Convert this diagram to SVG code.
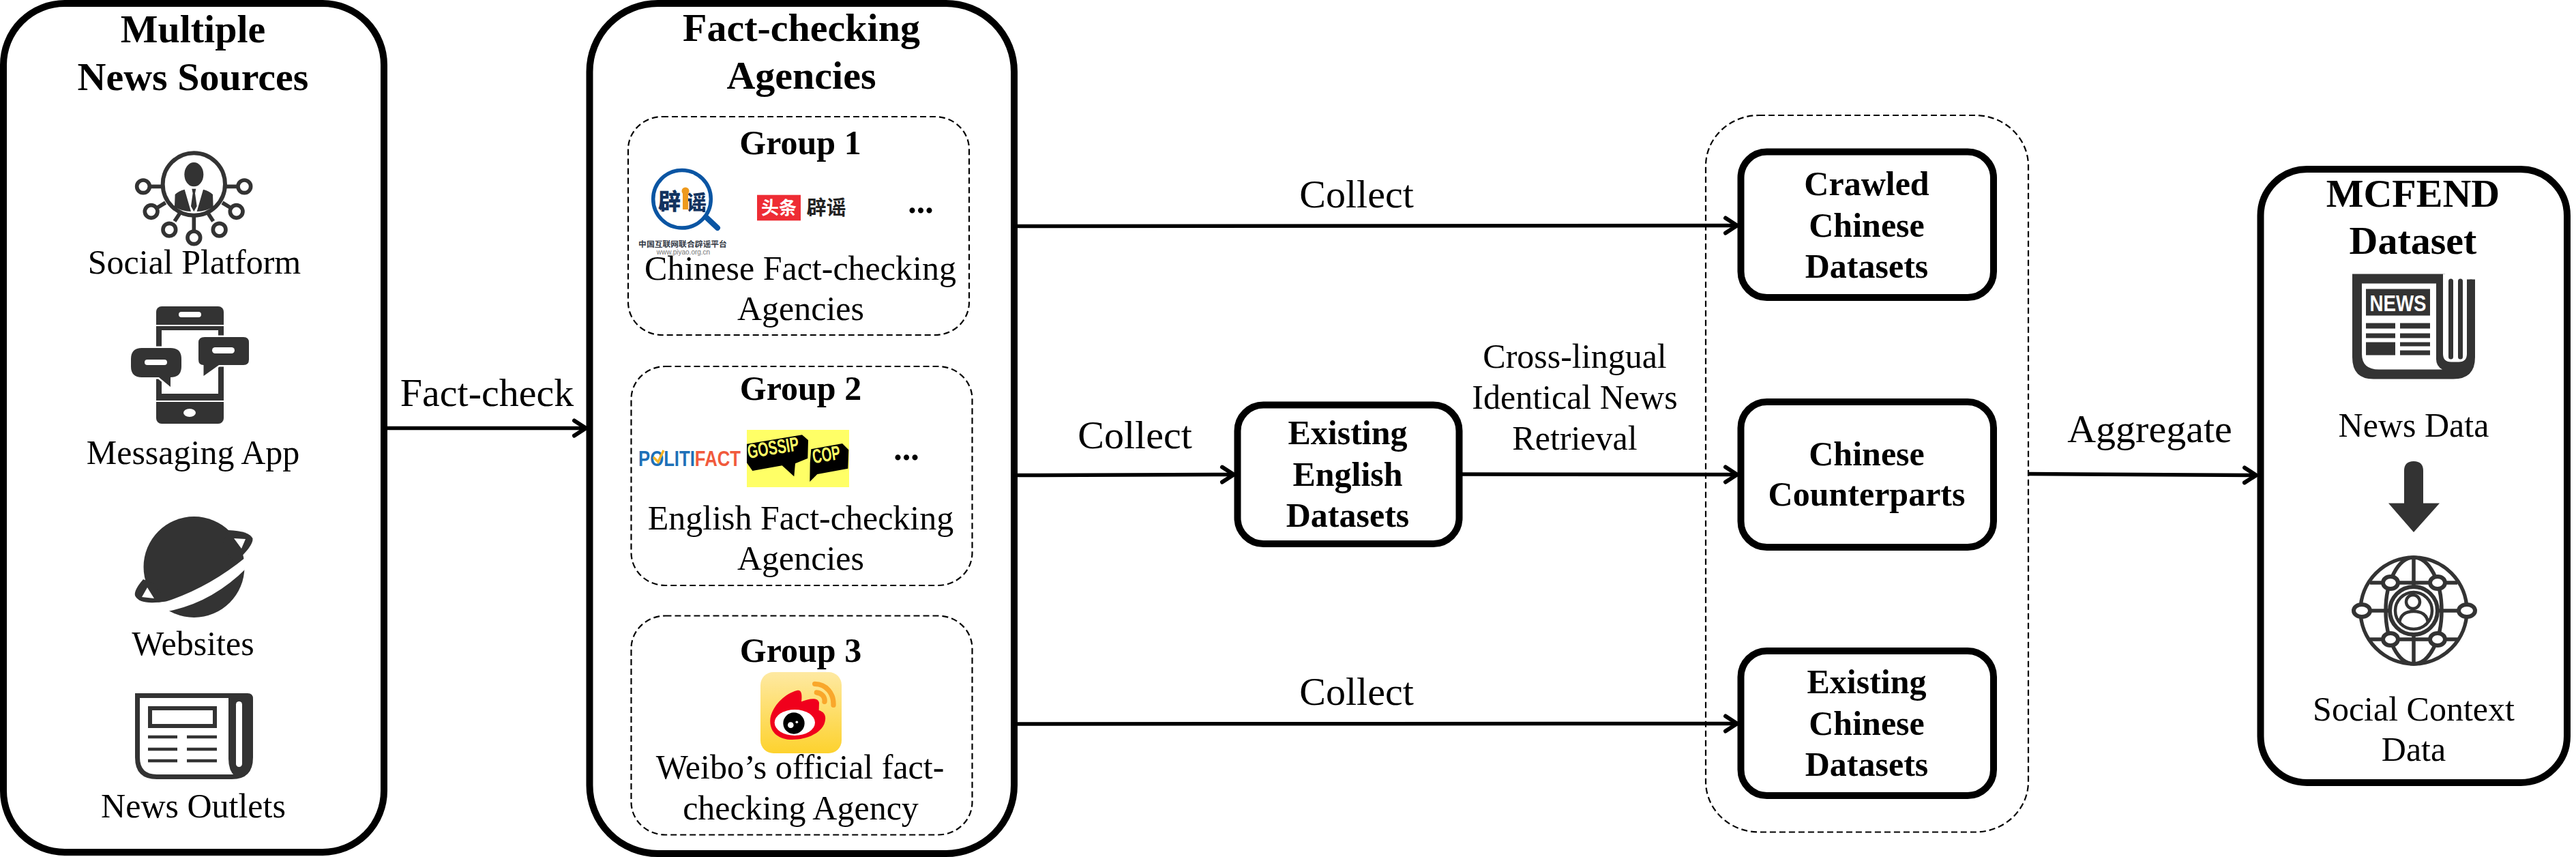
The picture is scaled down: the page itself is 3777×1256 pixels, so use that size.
<svg xmlns="http://www.w3.org/2000/svg" width="3777" height="1256" viewBox="0 0 3777 1256">
<defs>
<style>
text{font-family:"Liberation Serif","Times New Roman","Noto Sans CJK SC",serif;fill:#000;text-anchor:middle}
.h{font-size:58px;font-weight:700}
.b{font-size:50px;font-weight:700}
.r{font-size:50px}
.e{font-size:58px}
.panel{fill:#fff;stroke:#000;stroke-width:10}
.box{fill:#fff;stroke:#000;stroke-width:10}
.dash{fill:none;stroke:#000;stroke-width:2.200;stroke-dasharray:9 5}
.conn{fill:none;stroke:#000;stroke-width:5.500}
.dk{fill:#333}
.ln{fill:none;stroke:#333}
.wh{fill:#fff}
.cjk{font-family:"Noto Sans CJK SC","Liberation Sans",sans-serif}
.sans{font-family:"Liberation Sans","Noto Sans",Arial,sans-serif}
</style>
<marker id="arrow" markerUnits="userSpaceOnUse" markerWidth="34" markerHeight="34" refX="29" refY="17" orient="auto" overflow="visible">
<path d="M11,6 L28,17 L11,28" fill="none" stroke="#000" stroke-width="6" stroke-linecap="round"/>
</marker>
<linearGradient id="wb" x1="0" y1="0" x2="0" y2="1">
<stop offset="0" stop-color="#fee9a2"/><stop offset="1" stop-color="#fdd22e"/>
</linearGradient>
</defs>
<rect width="3777" height="1256" fill="#fff"/>

<g id="multiple-news-sources">
<rect class="panel" x="5" y="5" width="558" height="1244" rx="90" ry="90"/>
<text class="h" x="283" y="62">Multiple</text>
<text class="h" x="283" y="132">News Sources</text>

<g id="icon-social" transform="translate(180 215) scale(.3333)">
<circle cx="313" cy="165" r="137" fill="none" stroke="#333" stroke-width="18"/>
<ellipse class="dk" cx="313" cy="122" rx="42" ry="53"/>
<path class="dk" d="M228,265 L230,210 Q245,195 272,188 L300,285 Q260,285 228,265 Z M398,265 L396,210 Q381,195 354,188 L326,285 Q366,285 398,265 Z M304,185 H322 L318,205 L326,262 L313,285 L300,262 L308,205 Z"/>
<g fill="#fff" stroke="#333" stroke-width="17">
<path d="M118,175 H170 M146,272 L188,246 M228,328 L258,282 M313,372 V304 M398,328 L368,282 M480,272 L438,246 M508,175 H456"/>
<circle cx="90" cy="175" r="28"/><circle cx="125" cy="285" r="28"/><circle cx="205" cy="365" r="28"/><circle cx="313" cy="400" r="28"/><circle cx="425" cy="365" r="28"/><circle cx="500" cy="285" r="28"/><circle cx="535" cy="175" r="28"/>
</g>
</g>
<text class="r" x="285" y="401">Social Platform</text>

<g id="icon-messaging">
<rect class="dk" x="229" y="449" width="99" height="172" rx="8"/>
<rect class="wh" x="237" y="484" width="83" height="93"/>
<rect class="wh" x="229" y="476" width="99" height="2"/>
<rect class="wh" x="229" y="587" width="99" height="2"/>
<rect class="wh" x="262" y="457" width="33" height="8" rx="4"/>
<ellipse class="wh" cx="278" cy="605" rx="9" ry="6"/>
<path class="dk" stroke="#fff" stroke-width="5" paint-order="stroke" d="M208,510 H250 Q266,510 266,526 V537 Q266,553 250,553 V567 L233,553 H208 Q192,553 192,537 V526 Q192,510 208,510 Z"/>
<path class="dk" stroke="#fff" stroke-width="5" paint-order="stroke" d="M300,494 H357 Q365,494 365,502 V527 Q365,535 357,535 H321 L298.500,551 V535 Q291,535 291,527 V502 Q291,494 300,494 Z"/>
<rect class="wh" x="212" y="527" width="33" height="8" rx="4"/>
<rect class="wh" x="311" y="509" width="33" height="9" rx="4.500"/>
</g>
<text class="r" x="283" y="680">Messaging App</text>

<g id="icon-website">
<circle class="dk" cx="284.500" cy="831" r="74"/>
<path class="wh" d="M200,902 L245,896 Q310,884 362,832 L375,800 L360,817 Q306,861 245,881 Q220,885 205,880 Z"/>
<path class="dk" d="M335,777 Q365,778 370.500,789 Q372,800 344,825 L325,800 Z"/>
<path class="wh" d="M343,789 L360,790 L354,804 Z"/>
<path class="dk" d="M210,849 Q196,865 198,873 Q205,888 245,881 L225,855 Z"/>
<path class="wh" d="M216,861 L226,877 L208,875 Z"/>
</g>
<text class="r" x="283" y="960">Websites</text>

<g id="icon-outlets">
<path class="ln" stroke-width="7" fill="none" d="M201.500,1019.500 H363 Q367.500,1019.500 367.500,1024 V1110 Q367.500,1138.500 340,1138.500 H230 Q201.500,1138.500 201.500,1110 Z"/>
<path class="dk" d="M335,1019 H368 V1115 Q368,1136 345,1138 Q335,1130 335,1112 Z"/>
<rect class="wh" x="346" y="1028" width="9" height="96" rx="4.500"/>
<rect x="220" y="1038" width="95" height="26" fill="none" stroke="#333" stroke-width="6"/>
<path class="ln" stroke-width="4.500" d="M217,1080 H260 M217,1098 H260 M217,1115 H260 M274,1080 H318 M274,1098 H318 M274,1115 H318"/>
</g>
<text class="r" x="283.500" y="1198">News Outlets</text>
</g>

<g id="fact-checking-agencies">
<rect class="panel" x="864.500" y="5" width="622.500" height="1246" rx="100" ry="100"/>
<text class="h" x="1175" y="60">Fact-checking</text>
<text class="h" x="1175" y="130">Agencies</text>
</g>

<g id="group-1">
<rect class="dash" x="921" y="171" width="500" height="320" rx="50" ry="48"/>
<text class="b" x="1173.500" y="226">Group 1</text>
<g id="logo-piyao">
<circle cx="1000" cy="291.700" r="42.300" fill="#fff" stroke="#0a55a3" stroke-width="5.500"/>
<path d="M1035,318 L1052,334" stroke="#0a55a3" stroke-width="8" stroke-linecap="round"/>
<text class="cjk" x="981.500" y="307" style="font-size:33px;font-weight:900;fill:#13335f">辟</text>
<text class="cjk" x="1021" y="307" style="font-size:30px;font-weight:900;fill:#13335f">谣</text>
<rect x="1001" y="283" width="8" height="24" fill="#ee9a1e"/>
<circle cx="1005" cy="280" r="5.500" fill="#ee9a1e"/>
<text class="cjk" x="1001" y="362" style="font-size:11.800px;font-weight:700;fill:#333a45">中国互联网联合辟谣平台</text>
<text class="sans" x="1002" y="373" style="font-size:10px;fill:#777">www.piyao.org.cn</text>
</g>
<g id="logo-toutiao">
<rect x="1110" y="285.700" width="64" height="37.600" fill="#ee2c34"/>
<text class="cjk" x="1142" y="314" style="font-size:26px;font-weight:700;fill:#fff">头条</text>
<text class="cjk" x="1211.500" y="315" style="font-size:29px;font-weight:700;fill:#222">辟谣</text>
</g>
<text class="b" x="1350" y="312">...</text>
<text class="r" x="1173.500" y="410">Chinese Fact-checking</text>
<text class="r" x="1174" y="469">Agencies</text>
</g>

<g id="group-2">
<rect class="dash" x="925.500" y="537" width="500" height="321" rx="50" ry="48"/>
<text class="b" x="1174" y="586">Group 2</text>
<g id="logo-politifact">
<text class="sans" x="936" y="683" textLength="150" lengthAdjust="spacingAndGlyphs" style="font-size:32px;font-weight:700;text-anchor:start;fill:#1d70b8">POLITI<tspan fill="#f15a3c" style="fill:#f15a3c">FACT</tspan></text>
<path d="M958,670 L965,677 L973,660" fill="none" stroke="#f5b324" stroke-width="3.500"/>
</g>
<g id="logo-gossipcop">
<rect x="1095" y="630" width="150" height="84" fill="#ffff66"/>
<path d="M1095,650.700 L1176,637.300 L1185,645 L1184.300,671.700 L1166,679.300 L1164.300,698.300 L1146.700,682.300 L1103.300,690 L1095,678.300 Z"/>
<path d="M1189.300,658.300 L1235,650 L1244.300,659.300 L1243.300,686.700 L1198.300,695 L1187.300,706 L1187.700,678.300 Z"/>
<text class="sans" transform="translate(1135 666) rotate(-9)" textLength="76" lengthAdjust="spacingAndGlyphs" style="font-size:29px;font-weight:700;fill:#ffff66">GOSSIP</text>
<text class="sans" transform="translate(1213 676) rotate(-9)" textLength="41" lengthAdjust="spacingAndGlyphs" style="font-size:29px;font-weight:700;fill:#ffff66">COP</text>
</g>
<text class="b" x="1329" y="674">...</text>
<text class="r" x="1174" y="776">English Fact-checking</text>
<text class="r" x="1174" y="835">Agencies</text>
</g>

<g id="group-3">
<rect class="dash" x="925.500" y="902.500" width="500" height="321" rx="50" ry="48"/>
<text class="b" x="1174" y="970">Group 3</text>
<g id="logo-weibo">
<rect x="1115" y="985" width="119" height="119" rx="19" fill="url(#wb)"/>
<g transform="translate(1100 975) scale(.3333)">
<path d="M88,240 C92,185 150,125 205,111 C222,106 230,120 225,160 C260,145 300,140 303,165 L302,198 C325,205 333,220 330,240 C325,295 250,327 185,327 C125,327 85,295 88,240 Z" fill="#f0001c"/>
<ellipse cx="196" cy="252" rx="89" ry="57" fill="#fff"/>
<circle cx="192" cy="255" r="47"/>
<circle cx="178" cy="263" r="13" fill="#fff"/>
<circle cx="205" cy="250" r="5.500" fill="#fff"/>
<path d="M284,82 C335,82 368,125 366,175 M292,120 C315,122 330,140 327,160" fill="none" stroke="#f9a72b" stroke-width="22" stroke-linecap="round"/>
</g>
</g>
<text class="r" x="1173" y="1141">Weibo’s official fact-</text>
<text class="r" x="1174" y="1201">checking Agency</text>
</g>

<g id="existing-english-datasets">
<rect class="box" x="1814.500" y="593.500" width="325" height="203.500" rx="38" ry="38"/>
<text class="b" x="1976" y="651">Existing</text>
<text class="b" x="1976" y="711.500">English</text>
<text class="b" x="1976" y="771.500">Datasets</text>
</g>

<g id="chinese-datasets-container">
<rect class="dash" x="2501" y="169" width="473" height="1050.500" rx="78" ry="74"/>
</g>
<g id="crawled-chinese-datasets">
<rect class="box" x="2552.500" y="222.500" width="370.500" height="213.500" rx="38" ry="38"/>
<text class="b" x="2737" y="286">Crawled</text>
<text class="b" x="2737" y="347">Chinese</text>
<text class="b" x="2737" y="407">Datasets</text>
</g>
<g id="chinese-counterparts">
<rect class="box" x="2552.500" y="589" width="370.500" height="213" rx="38" ry="38"/>
<text class="b" x="2737" y="682">Chinese</text>
<text class="b" x="2737" y="741">Counterparts</text>
</g>
<g id="existing-chinese-datasets">
<rect class="box" x="2552.500" y="954" width="370.500" height="212" rx="38" ry="38"/>
<text class="b" x="2737" y="1016">Existing</text>
<text class="b" x="2737" y="1077">Chinese</text>
<text class="b" x="2737" y="1137">Datasets</text>
</g>

<g id="mcfend-dataset">
<rect class="panel" x="3314.500" y="248" width="449.500" height="899" rx="68" ry="68"/>
<text class="h" x="3538" y="303">MCFEND</text>
<text class="h" x="3538" y="372">Dataset</text>
<g id="icon-news" transform="translate(0 -1.500)">
<path class="dk" d="M3449,403 H3585 V408 H3629 V525 Q3629,557 3597,557 H3480 Q3449,557 3449,525 Z"/>
<path class="wh" d="M3463,417 H3572 V528 Q3572,538 3581,543 H3488 Q3463,543 3463,520 Z"/>
<path class="wh" d="M3582,403 H3629 V411 H3617 V520 Q3617,532 3605,532 H3594 Q3582,532 3582,520 Z"/>
<rect class="dk" x="3590" y="410" width="7" height="118" rx="3.500"/>
<rect class="dk" x="3604" y="410" width="7" height="118" rx="3.500"/>
<path class="dk" d="M3617,417 Q3617,411 3623,411 Q3629,411 3629,417 V470 H3617 Z"/>
<rect class="dk" x="3469" y="425" width="94" height="39"/>
<text class="sans" x="3516" y="457" textLength="83" lengthAdjust="spacingAndGlyphs" style="font-size:33px;font-weight:700;fill:#fff">NEWS</text>
<path class="dk" d="M3469,475 H3512 V483 H3469 Z M3469,490 H3512 V497 H3469 Z M3469,503 H3512 V522 H3469 Z M3519,475 H3563 V483 H3519 Z M3519,490 H3563 V497 H3519 Z M3519,503 H3563 V509 H3519 Z M3519,515 H3563 V522 H3519 Z"/>
</g>
<text class="r" x="3539" y="639.500">News Data</text>
<path id="icon-down-arrow" class="dk" d="M3525,690 Q3525,676 3539,676 Q3553,676 3553,690 V737.500 H3577 L3539,780 L3502,737.500 H3525 Z"/>
<g id="icon-social-context" transform="translate(0 -3)" fill="none" stroke="#333" stroke-width="5.500">
<circle cx="3539" cy="898" r="78"/>
<ellipse cx="3539" cy="898" rx="41" ry="78"/>
<path d="M3539,820 V864 M3539,932 V976 M3475,857 H3603 M3475,940 H3603 M3470,898 H3504 M3574,898 H3608"/>
<circle cx="3539" cy="898" r="35" stroke-width="6"/>
<circle cx="3539" cy="898" r="27" stroke-width="4.500"/>
<circle cx="3538" cy="885" r="10" stroke-width="4.500"/>
<path d="M3518,916 Q3520,899 3539,899 Q3558,899 3560,916" stroke-width="4.500"/>
<g fill="#fff" stroke-width="6">
<ellipse cx="3463" cy="898" rx="12" ry="9"/><ellipse cx="3617" cy="898" rx="12" ry="9"/>
<ellipse cx="3505" cy="857" rx="11" ry="9"/><ellipse cx="3574" cy="857" rx="11" ry="9"/>
<ellipse cx="3505" cy="940" rx="11" ry="9"/><ellipse cx="3574" cy="940" rx="11" ry="9"/>
</g>
</g>
<text class="r" x="3539" y="1056">Social Context</text>
<text class="r" x="3539" y="1115">Data</text>
</g>

<g id="connectors">
<path class="conn" marker-end="url(#arrow)" d="M568,627.500 L860,627.500"/>
<path class="conn" marker-end="url(#arrow)" d="M1492,331.500 L2548,330.500"/>
<path class="conn" marker-end="url(#arrow)" d="M1492,696.500 L1810,695.500"/>
<path class="conn" marker-end="url(#arrow)" d="M2144,695 L2548,695.500"/>
<path class="conn" marker-end="url(#arrow)" d="M1492,1061 L2548,1060.500"/>
<path class="conn" marker-end="url(#arrow)" d="M2974,694.500 L3309,696.500"/>
</g>
<g id="connector-labels">
<text class="e" x="714" y="595">Fact-check</text>
<text class="e" x="1989" y="303.500">Collect</text>
<text class="e" x="1664" y="657">Collect</text>
<text class="e" x="1989" y="1033">Collect</text>
<text class="r" x="2309" y="539">Cross-lingual</text>
<text class="r" x="2309" y="599">Identical News</text>
<text class="r" x="2309" y="659">Retrieval</text>
<text class="e" x="3152" y="648">Aggregate</text>
</g>
</svg>
